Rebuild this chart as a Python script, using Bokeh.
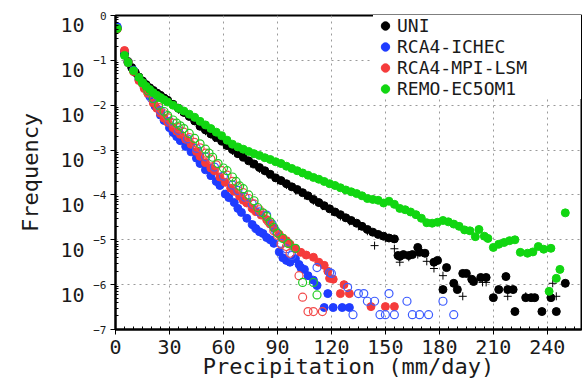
import numpy as np
from bokeh.plotting import figure
from bokeh.models import (Legend, LegendItem, FixedTicker, CustomJSTickFormatter,
                          LogAxis, LogScale, Range1d)
from bokeh.embed import file_html
from bokeh.resources import INLINE

# ---------------- data ----------------
# precipitation (mm/day) and log10(frequency)
uni_x = [1, 5, 7, 9, 11, 13, 15, 17, 19, 21, 23, 25, 27, 29,
         32, 35, 38, 41, 44, 47, 50, 53, 56, 59, 62, 65, 68, 71, 74, 77, 80, 83, 86, 89,
         92, 95, 98, 101, 104, 107, 110, 113, 116, 119, 122, 125, 128, 131, 134, 137, 140,
         143, 146, 149, 152, 155,
         157, 158, 160, 163, 165, 168, 169, 172, 177, 179, 182, 184, 188, 190, 193, 195,
         198, 199, 203, 206, 210, 213, 217, 218, 221, 222, 228, 231, 233, 237, 242, 245, 250]
uni_lg = [-0.29, -0.86, -1.03, -1.16, -1.27, -1.37, -1.46, -1.54, -1.61, -1.67, -1.73, -1.78, -1.84, -1.89,
          -1.98, -2.07, -2.16, -2.25, -2.35, -2.47, -2.55, -2.64, -2.72, -2.80, -2.90, -2.99, -3.08, -3.16,
          -3.24, -3.31, -3.39, -3.46, -3.54, -3.62,
          -3.68, -3.75, -3.82, -3.88, -3.95, -4.02, -4.10, -4.17, -4.24, -4.31, -4.38, -4.44, -4.51, -4.57,
          -4.63, -4.70, -4.77, -4.83, -4.88, -4.92, -4.96, -4.98,
          -5.35, -5.37, -5.33, -5.35, -5.33, -5.17, -5.28, -5.30, -5.50, -5.46, -6.11, -5.62, -5.97, -6.11,
          -5.75, -5.75, -5.88, -5.93, -5.84, -5.84, -6.29, -6.11, -5.82, -6.11, -6.11, -6.60, -6.29, -6.29,
          -6.29, -6.60, -6.29, -6.60, -5.97]

uni_plus_x = [30, 35, 40, 45, 50, 55, 60, 65, 70, 75, 80, 85, 90, 95, 100, 105, 110, 115, 120, 125,
              130, 135, 140,
              144, 150, 155, 158, 163, 168, 173, 177, 182, 193, 204, 206, 218, 228, 243, 245]
uni_plus_lg = [-1.95, -2.10, -2.24, -2.42, -2.58, -2.73, -2.88, -3.02, -3.16, -3.30, -3.42, -3.55,
               -3.67, -3.78, -3.90, -4.01, -4.13, -4.25, -4.37, -4.48, -4.59, -4.70, -4.81,
               -5.13, -4.97, -5.20, -5.50, -5.39, -5.33, -5.48, -5.64, -5.80, -6.26, -5.95, -5.95,
               -6.26, -6.26, -5.97, -6.26]

ichec_x = [1, 5, 7, 10, 13, 16, 19, 22, 25, 27, 30, 32, 34, 36, 39, 42, 45, 47, 50, 53,
           56, 58, 61, 63, 66, 68, 70, 73, 76, 78, 80, 82, 84, 86, 88, 91, 93, 95, 97, 100,
           102, 103, 105, 107, 110, 112, 116, 118, 121, 126, 130]
ichec_lg = [-0.25, -0.80, -1.05, -1.22, -1.42, -1.60, -1.80, -2.02, -2.22, -2.34,
            -2.50, -2.61, -2.70, -2.79, -2.92, -3.04, -3.18, -3.30, -3.44, -3.57,
            -3.70, -3.79, -3.98, -4.06, -4.17, -4.30, -4.39, -4.52, -4.66, -4.75,
            -4.82, -4.86, -4.95, -5.00, -5.08, -5.27, -5.40, -5.46, -5.50, -5.42,
            -5.55, -5.62, -5.66, -5.80, -5.90, -6.02, -6.51, -6.20, -6.51, -6.51, -6.51]

mpi_x = [1, 5, 7, 10, 13, 16, 18, 21, 23, 25, 27, 29, 32, 34, 36, 39, 42, 45, 47, 50,
         53, 55, 58, 61, 64, 66, 69, 71, 73, 76, 78, 81, 84, 86, 88, 91, 93, 95, 97, 100,
         103, 106, 110, 113, 116, 118, 119, 121, 125, 127, 130, 142, 150, 155]
mpi_lg = [-0.30, -0.78, -1.05, -1.25, -1.45, -1.63, -1.74, -1.95, -2.07, -2.18,
          -2.29, -2.38, -2.50, -2.58, -2.65, -2.76, -2.87, -3.03, -3.14, -3.28,
          -3.40, -3.46, -3.60, -3.72, -3.85, -3.92, -4.03, -4.12, -4.18, -4.30,
          -4.37, -4.45, -4.55, -4.65, -4.74, -4.88, -4.96, -5.02, -5.10, -5.20,
          -5.28, -5.34, -5.39, -5.50, -5.57, -5.70, -5.86, -5.88, -6.20, -6.00,
          -6.20, -6.49, -6.49, -6.49]

remo_x = [1, 5, 7, 10, 13, 15, 17, 19, 21, 23, 25, 27, 29,
          32, 35, 38, 41, 44, 47, 50, 53, 56, 59, 62, 65, 68, 71, 74, 77, 80, 83, 86, 89,
          92, 95, 98, 101, 104, 107, 110, 113, 116, 119, 122, 125, 128, 131, 134, 137, 140, 143,
          146, 149, 152, 155, 158, 161, 164, 167, 170, 173, 176, 179, 182, 185, 188, 191, 194,
          197, 200,
          202, 205, 207, 210, 213, 216, 219, 222, 225, 229, 232, 235, 238, 242, 241, 245, 247, 250]
remo_lg = [-0.29, -0.89, -1.05, -1.23, -1.38, -1.50, -1.58, -1.65, -1.72, -1.78, -1.83, -1.88, -1.93,
           -2.00, -2.07, -2.13, -2.20, -2.27, -2.36, -2.44, -2.52, -2.60, -2.68, -2.78, -2.87, -2.93,
           -2.98, -3.03, -3.08, -3.12, -3.17, -3.21, -3.26,
           -3.30, -3.36, -3.41, -3.46, -3.51, -3.56, -3.61, -3.65, -3.70, -3.75, -3.79, -3.84, -3.89,
           -3.93, -3.97, -4.02, -4.08, -4.10,
           -4.12, -4.18, -4.14, -4.21, -4.30, -4.33, -4.38, -4.44, -4.52, -4.62, -4.63, -4.61, -4.57,
           -4.60, -4.65, -4.70, -4.78, -4.80, -4.93,
           -4.77, -4.92, -4.97, -5.17, -5.10, -5.06, -5.02, -5.00, -5.28, -5.30, -5.27, -5.15, -5.21,
           -5.19, -6.15, -5.86, -5.66, -4.40]

open_green_x = [15, 18, 21, 24, 27, 29, 32, 34, 36, 38, 41, 44, 47, 50, 52, 54, 57, 60, 62, 65,
                67, 69, 71, 74, 77, 79, 82, 84, 86, 88, 90, 93, 96, 100, 104, 110, 112]
open_green_lg = [-1.50, -1.68, -1.85, -2.00, -2.14, -2.23, -2.33, -2.40, -2.46, -2.52,
                 -2.63, -2.74, -2.86, -2.98, -3.07, -3.16, -3.30, -3.40, -3.46, -3.60,
                 -3.70, -3.80, -3.86, -4.00, -4.13, -4.28, -4.40, -4.48, -4.60, -4.72,
                 -4.85, -4.97, -5.08, -5.19, -5.95, -5.95, -6.23]

open_red_x = [15, 18, 21, 24, 27, 29, 32, 35, 38, 41, 44, 47, 50, 53, 56, 59, 62, 65, 68, 71,
              74, 77, 80, 82, 85, 88, 90, 92, 95, 97, 102, 104, 107, 110, 115]
open_red_lg = [-1.52, -1.72, -1.90, -2.05, -2.19, -2.28, -2.40, -2.50, -2.60, -2.72,
               -2.83, -2.95, -3.07, -3.20, -3.33, -3.46, -3.56, -3.70, -3.82, -3.95,
               -4.08, -4.20, -4.33, -4.42, -4.60, -4.80, -4.90, -5.10, -5.15, -5.30,
               -5.80, -6.28, -6.60, -6.60, -6.60]

open_blue_x = [20, 25, 30, 35, 40, 45, 50, 55, 60, 65, 68, 72, 76, 80, 84, 87, 89, 92, 95, 98,
               112, 119, 120, 129, 132, 135, 138, 140, 144, 147, 150, 152, 155, 162, 165, 169,
               174, 182, 188]
open_blue_lg = [-1.85, -2.12, -2.36, -2.56, -2.75, -2.96, -3.15, -3.38, -3.58, -3.78,
                -3.90, -4.05, -4.20, -4.38, -4.45, -4.65, -4.80, -5.08, -5.20, -5.35,
                -5.62, -5.73, -5.75, -6.06, -6.67, -6.20, -6.20, -6.37, -6.37, -6.67,
                -6.67, -6.20, -6.67, -6.37, -6.67, -6.67, -6.67, -6.37, -6.67]

series_names = ["UNI", "RCA4-ICHEC", "RCA4-MPI-LSM", "REMO-EC5OM1"]
x_ticks = [0, 30, 60, 90, 120, 150, 180, 210, 240]
y_exponents = [0, -1, -2, -3, -4, -5, -6, -7]


def freq(lg):
    return [10.0 ** v for v in lg]


# ---------------- figure ----------------
p = figure(width=582, height=383, x_range=(0, 259), y_range=(1e-7, 1.0),
           y_axis_type="log", output_backend="svg", toolbar_location=None,
           min_border_left=115, min_border_right=1, min_border_top=15, min_border_bottom=54,
           background_fill_color="white", border_fill_color="white")
p.outline_line_color = "black"
p.outline_line_width = 2

FONT = "DejaVu Sans Mono"
TXT = "#1a1a1a"
decades = [10.0 ** e for e in y_exponents]

# x axis
xa = p.xaxis[0]
xa.ticker = FixedTicker(ticks=x_ticks, minor_ticks=list(range(0, 260, 5)))
xa.axis_line_width = 2
xa.major_tick_out = 5
xa.major_tick_in = 0
xa.minor_tick_in = 3
xa.minor_tick_out = 0
xa.major_label_text_font = FONT
xa.major_label_text_font_size = "20px"
xa.major_label_text_color = TXT
xa.major_label_standoff = 5
xa.axis_label = "Precipitation (mm/day)"
xa.axis_label_text_font = FONT
xa.axis_label_text_font_size = "22px"
xa.axis_label_text_font_style = "normal"
xa.axis_label_text_color = TXT
xa.axis_label_standoff = -3

# y axis (ticks + exponent part of the labels)
ya = p.yaxis[0]
ya.ticker = FixedTicker(ticks=decades,
                        minor_ticks=[k * 10.0 ** e for e in range(-7, 0) for k in range(2, 10)])
ya.formatter = CustomJSTickFormatter(code="""
    const e = Math.round(Math.log10(tick));
    return e == 0 ? "0" : "\u2212" + (-e);
""")
ya.axis_line_width = 2
ya.major_tick_out = 5
ya.major_tick_in = 0
ya.minor_tick_in = 3
ya.minor_tick_out = 0
ya.major_label_standoff = 4
ya.major_label_text_font = FONT
ya.major_label_text_font_size = "11px"
ya.major_label_text_color = TXT

# second left axis carrying the "10" mantissa, set a little lower than the ticks
SHIFT = 10 ** (10 / 44.86)
p.extra_y_ranges = {"mantissa": Range1d(1e-7 * SHIFT, 1.0 * SHIFT)}
p.extra_y_scales = {"mantissa": LogScale()}
ma = LogAxis(y_range_name="mantissa",
             ticker=FixedTicker(ticks=decades, minor_ticks=[]),
             formatter=CustomJSTickFormatter(code="return '10'"))
ma.axis_line_color = None
ma.major_tick_line_color = None
ma.minor_tick_line_color = None
ma.major_tick_out = 0
ma.major_tick_in = 0
ma.major_label_standoff = 6
ma.major_label_text_font = FONT
ma.major_label_text_font_size = "20px"
ma.major_label_text_color = TXT
ma.axis_label = "Frequency"
ma.axis_label_text_font = FONT
ma.axis_label_text_font_size = "22px"
ma.axis_label_text_font_style = "normal"
ma.axis_label_text_color = TXT
ma.axis_label_standoff = 14
p.add_layout(ma, "left")

p.grid.grid_line_color = "#9a9a9a"
p.grid.grid_line_dash = "2 4"
p.grid.grid_line_width = 1

# ---------------- glyphs ----------------
S = 8
r_uni = p.scatter(uni_x, freq(uni_lg), marker="circle", size=S,
                  fill_color="black", line_color="black")
p.scatter(uni_plus_x, freq(uni_plus_lg), marker="cross", size=S,
          line_color="black", line_width=1)
r_ichec = p.scatter(ichec_x, freq(ichec_lg), marker="circle", size=S,
                    fill_color="#1f3cff", line_color="#1f3cff")
r_mpi = p.scatter(mpi_x, freq(mpi_lg), marker="circle", size=S,
                  fill_color="#f53b3b", line_color="#f53b3b")
p.scatter(open_blue_x, freq(open_blue_lg), marker="circle", size=S,
          fill_color=None, line_color="#3d5cff", line_width=1.2)
p.scatter(open_red_x, freq(open_red_lg), marker="circle", size=S,
          fill_color=None, line_color="#f24a4a", line_width=1.2)
p.scatter(open_green_x, freq(open_green_lg), marker="circle", size=S,
          fill_color=None, line_color="#22cc22", line_width=1.2)
r_remo = p.scatter(remo_x, freq(remo_lg), marker="circle", size=S,
                   fill_color="#11d611", line_color="#11d611")

legend = Legend(items=[LegendItem(label=n, renderers=[r]) for n, r in
                       zip(series_names, [r_uni, r_ichec, r_mpi, r_remo])],
                location="top_right", margin=0, padding=0, spacing=0,
                glyph_width=24, glyph_height=21, label_height=21, label_width=184,
                label_standoff=0, label_text_font=FONT, label_text_font_size="18px",
                label_text_color=TXT, background_fill_color="white",
                background_fill_alpha=1.0, border_line_color=None)
p.add_layout(legend)

open("out.html", "w").write(file_html(p, INLINE))
